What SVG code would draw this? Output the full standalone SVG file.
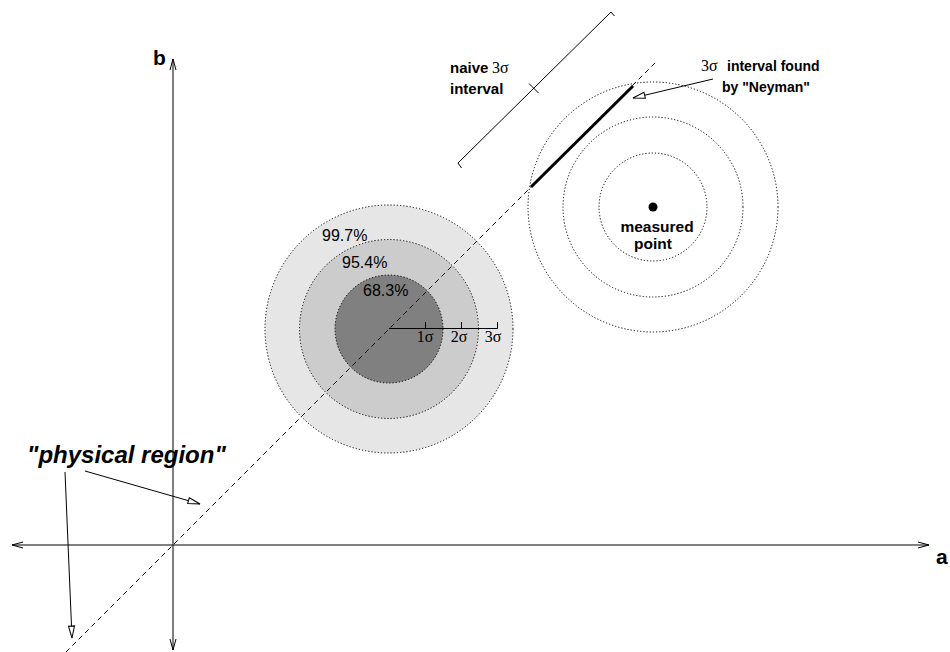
<svg xmlns="http://www.w3.org/2000/svg" width="950" height="652" viewBox="0 0 950 652">
<style>
.ln{fill:none;stroke:#000;stroke-width:1}
.dot{stroke:#000;stroke-width:1;stroke-dasharray:1.2 2}
.dash{fill:none;stroke:#000;stroke-width:1;stroke-dasharray:5 4}
.b{font-family:"Liberation Sans",Arial,sans-serif;font-weight:bold;fill:#000}
.r{font-family:"Liberation Sans",Arial,sans-serif;fill:#000}
.s{font-family:"Liberation Serif","Times New Roman",serif;fill:#000}
</style>
<defs>
<marker id="v" markerUnits="userSpaceOnUse" markerWidth="14" markerHeight="10" refX="11" refY="4" orient="auto-start-reverse">
<path d="M0,1 L11,4 L0,7" fill="none" stroke="#000" stroke-width="1"/>
</marker>
<marker id="tri" markerUnits="userSpaceOnUse" markerWidth="16" markerHeight="12" refX="13" refY="5" orient="auto">
<path d="M1,2 L13,5 L1,8 Z" fill="#fff" stroke="#000" stroke-width="1"/>
</marker>
</defs>

<g id="gaussian">
<circle cx="389" cy="329" r="124" fill="#e6e6e6" class="dot"/>
<circle cx="389" cy="329" r="89.5" fill="#cccccc" class="dot"/>
<circle cx="389" cy="329" r="54" fill="#808080" class="dot"/>
<text class="r" x="322" y="241" font-size="16">99.7%</text>
<text class="r" x="342" y="268" font-size="16">95.4%</text>
<text class="r" x="363" y="296" font-size="16">68.3%</text>
</g>

<g id="measured">
<circle cx="653" cy="207" r="125" fill="none" class="dot"/>
<circle cx="653" cy="207" r="90" fill="none" class="dot"/>
<circle cx="653" cy="207" r="54" fill="none" class="dot"/>
<circle cx="653" cy="207" r="4.5" fill="#000"/>
<text class="b" x="657" y="232" font-size="15.5" text-anchor="middle">measured</text>
<text class="b" x="653" y="249" font-size="15.5" text-anchor="middle">point</text>
</g>

<g id="axes">
<line class="ln" x1="12" y1="545" x2="929" y2="545" marker-start="url(#v)" marker-end="url(#v)"/>
<line class="ln" x1="173" y1="59" x2="173" y2="650" marker-start="url(#v)" marker-end="url(#v)"/>
<text class="b" x="153" y="65" font-size="21">b</text>
<text class="b" x="936" y="564" font-size="21">a</text>
</g>

<g id="ruler">
<path class="ln" d="M389,328.5 H497.5 M425.5,328.5 V322 M461.5,328.5 V322 M497.5,328.5 V322"/>
<text class="s" x="425" y="342" font-size="16" text-anchor="middle">1σ</text>
<text class="s" x="459" y="342" font-size="16" text-anchor="middle">2σ</text>
<text class="s" x="493" y="342" font-size="16" text-anchor="middle">3σ</text>
</g>

<g id="connectors">
<line class="dash" x1="66" y1="652" x2="657" y2="61"/>
<line x1="531" y1="187" x2="633" y2="86" stroke="#000" stroke-width="3"/>
<path class="ln" d="M461.5,168 L458,163 L611,12 L614.5,16 M529,83.5 L538.5,93"/>
<line class="ln" x1="713" y1="79" x2="633" y2="98" marker-end="url(#tri)"/>
<line class="ln" x1="85" y1="471" x2="200" y2="504" marker-end="url(#tri)"/>
<line class="ln" x1="65" y1="472" x2="72" y2="638" marker-end="url(#tri)"/>
</g>

<g id="labels">
<text class="b" x="450" y="73" font-size="15">naive</text>
<text class="s" x="492" y="73" font-size="16">3σ</text>
<text class="b" x="450" y="94" font-size="15">interval</text>
<text class="s" x="701" y="71" font-size="16">3σ</text>
<text class="b" x="727" y="71" font-size="14">interval found</text>
<text class="b" x="722" y="92" font-size="14">by "Neyman"</text>
<text class="b" x="27" y="463" font-size="24" font-style="italic">"physical region"</text>
</g>
</svg>
